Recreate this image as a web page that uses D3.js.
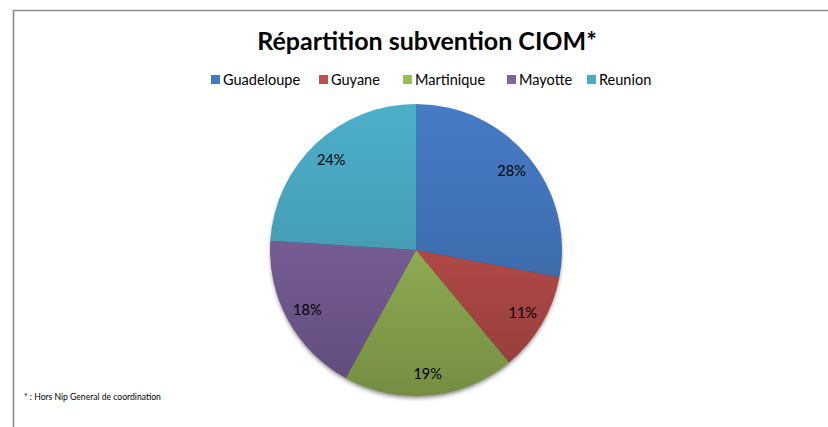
<!DOCTYPE html>
<html>
<head>
<meta charset="utf-8">
<script src="https://cdn.jsdelivr.net/npm/d3@7"></script>
<style>
  body { margin: 0; background: #fff; }
  svg { display: block; font-family: Lato, "Open Sans", sans-serif; }
</style>
</head>
<body>
<div id="chart"></div>
<script>
// data
var regions = ["Guadeloupe", "Guyane", "Martinique", "Mayotte", "Reunion"];
var shares = [28, 11, 19, 18, 24];
var colors = ["#4579c2", "#c0504d", "#9bbb59", "#8064a2", "#4bacc6"];

var width = 828, height = 427;
var cx = 416, cy = 250, radius = 146;

var svg = d3.select("#chart").append("svg")
    .attr("width", width)
    .attr("height", height);

// frame (only top and left edges show)
svg.append("path")
    .attr("d", "M13.5," + height + "V10.5H" + width)
    .attr("fill", "none")
    .attr("stroke", "#8a8a8a")
    .attr("stroke-width", 1.6);

var defs = svg.append("defs");

var shadow = defs.append("filter").attr("id", "shadow")
    .attr("x", "-10%").attr("y", "-10%").attr("width", "120%").attr("height", "125%");
shadow.append("feDropShadow")
    .attr("dx", 0).attr("dy", 3).attr("stdDeviation", 2)
    .attr("flood-color", "#000").attr("flood-opacity", 0.5);

// vertical shading, lighter on top and darker at the bottom
colors.forEach(function (c, i) {
    var grad = defs.append("linearGradient")
        .attr("id", "grad" + i)
        .attr("gradientUnits", "userSpaceOnUse")
        .attr("x1", 0).attr("y1", -radius)
        .attr("x2", 0).attr("y2", radius);
    grad.append("stop").attr("offset", "0%").attr("stop-color", d3.color(c).brighter(0.05));
    grad.append("stop").attr("offset", "50%").attr("stop-color", d3.color(c).darker(0.25));
    grad.append("stop").attr("offset", "100%").attr("stop-color", d3.color(c).darker(0.8));
});

// title
svg.append("text")
    .attr("x", 427)
    .attr("y", 50)
    .attr("text-anchor", "middle")
    .style("font-weight", "bold")
    .style("font-size", "25px")
    .style("fill", "#000")
    .text("Répartition subvention CIOM*");

// legend
var legendX = [211, 319, 403, 507, 587];
var legend = svg.append("g");
regions.forEach(function (r, i) {
    legend.append("rect")
        .attr("x", legendX[i]).attr("y", 75)
        .attr("width", 9).attr("height", 9)
        .attr("fill", colors[i]);
    legend.append("text")
        .attr("x", legendX[i] + 12).attr("y", 85)
        .style("font-size", "14.5px")
        .style("fill", "#000")
        .text(r);
});

// pie
var pie = d3.pie().sort(null).value(function (d) { return d; });
var arc = d3.arc().innerRadius(0).outerRadius(radius);
var labelArc = d3.arc().innerRadius(124).outerRadius(124);
var arcs = pie(shares);

var g = svg.append("g").attr("transform", "translate(" + cx + "," + cy + ")");

g.append("circle")
    .attr("r", radius - 1)
    .attr("fill", "#444")
    .attr("filter", "url(#shadow)");

g.selectAll("path.slice")
    .data(arcs)
    .enter()
    .append("path")
    .attr("class", "slice")
    .attr("d", arc)
    .attr("fill", function (d, i) { return "url(#grad" + i + ")"; });

g.selectAll("text.pct")
    .data(arcs)
    .enter()
    .append("text")
    .attr("class", "pct")
    .attr("transform", function (d) { return "translate(" + labelArc.centroid(d) + ")"; })
    .attr("dy", "0.35em")
    .attr("text-anchor", "middle")
    .style("font-size", "14.5px")
    .style("fill", "#000")
    .text(function (d) { return d.data + "%"; });

// footnote
svg.append("text")
    .attr("x", 24).attr("y", 400)
    .style("font-size", "8.6px")
    .style("fill", "#000")
    .text("* : Hors Nip General de coordination");
</script>
</body>
</html>
